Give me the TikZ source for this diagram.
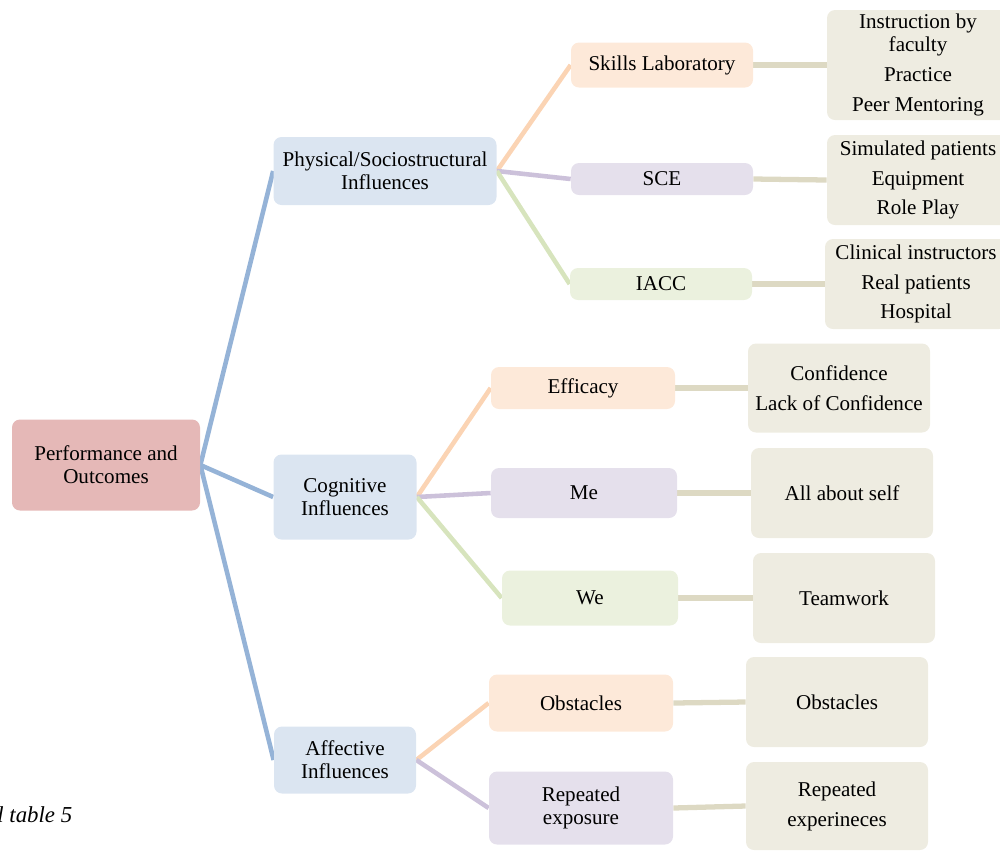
\documentclass[tikz,border=0pt]{standalone}
\usepackage{fontspec}
\setmainfont{Liberation Serif}
\usepackage{tikz}
\usetikzlibrary{backgrounds}

\definecolor{rootfill}{HTML}{E5B8B7}
\definecolor{bluefill}{HTML}{DBE5F1}
\definecolor{blueline}{HTML}{95B3D7}
\definecolor{orfill}{HTML}{FDE9D9}
\definecolor{orline}{HTML}{FBD4B4}
\definecolor{pufill}{HTML}{E5E0EC}
\definecolor{puline}{HTML}{CCC1DA}
\definecolor{grfill}{HTML}{EBF1DE}
\definecolor{grline}{HTML}{D7E4BD}
\definecolor{tanfill}{HTML}{EEECE1}
\definecolor{tanline}{HTML}{DDD9C3}
\newcommand{\pxu}{0.02cm}

\begin{document}
\begin{tikzpicture}
	[   x=0.02cm,y=-0.02cm,
		cnode/.style={draw=none,fill=#1,rounded corners=0.16cm,align=center,inner sep=2pt,
			font=\fontsize{12}{13}\selectfont},
	]
	\tikzset{link/.style={draw=#1,line width=2.6pt}}
	\useasboundingbox (0,0) rectangle (1000,850);
	
	\node[cnode=rootfill,minimum width=188*\pxu,minimum height=91*\pxu] (o) at (106,465) {Performance and\\Outcomes};
	
	\node[cnode=bluefill,minimum width=223*\pxu,minimum height=68*\pxu] (i-1) at (385,171) {Physical/Sociostructural\\Influences};
	\node[cnode=bluefill,minimum width=143*\pxu,minimum height=85*\pxu] (i-2) at (345,497) {Cognitive\\Influences};
	\node[cnode=bluefill,minimum width=142*\pxu,minimum height=67*\pxu] (i-3) at (345,760) {Affective\\Influences};
	
	\foreach \n/\x/\y/\w/\h/\c/\t in {
		1/662/65/182/45/orfill/Skills Laboratory,
		2/662/179/182/32/pufill/SCE,
		3/661/284/182/32/grfill/IACC,
		4/583/388/184/42/orfill/Efficacy,
		5/584/493/186/50/pufill/Me,
		6/590/598/176/55/grfill/We,
		7/581/703/184/57/orfill/Obstacles,
		8/581/808/184/73/pufill/{Repeated\\exposure}}
	{
		\node[cnode=\c,minimum width=\w*\pxu,minimum height=\h*\pxu] (c-\n) at (\x,\y) {\t};
	}
	
	\foreach \n/\x/\y/\h/\t in {
		1/918/65/110/{Instruction by\\faculty\\[4pt]Practice\\[4pt]Peer Mentoring},
		2/918/180/90/{Simulated patients\\[4pt]Equipment\\[4pt]Role Play},
		3/916/284/90/{Clinical instructors\\[4pt]Real patients\\[4pt]Hospital},
		4/839/388/89/{Confidence\\[4pt]Lack of Confidence},
		5/842/493/90/{All about self},
		6/844/598/90/{Teamwork},
		7/837/702/90/{Obstacles},
		8/837/806/88/{Repeated\\[4pt]experineces}}
	{
		\node[cnode=tanfill,minimum width=182*\pxu,minimum height=\h*\pxu] (l-\n) at (\x,\y) {\t};
	}
	
	\node[font=\fontsize{13}{15}\selectfont\itshape,anchor=west,inner sep=0pt] (cap) at (-3,815) {l table 5};
	
	\begin{scope}[on background layer]
		\foreach \y in {1,2,3}
		{
			\path[link=blueline] (o.east) -- (i-\y.west);
		}
		\foreach \p/\k/\c in {1/1/orline,1/2/puline,1/3/grline,2/4/orline,2/5/puline,2/6/grline,3/7/orline,3/8/puline}
		{
			\path[link=\c] (i-\p.east) -- (c-\k.west);
			\path[link=tanline,line width=3pt] (c-\k.east) -- (l-\k.west);
		}
	\end{scope}
\end{tikzpicture}
\end{document}
